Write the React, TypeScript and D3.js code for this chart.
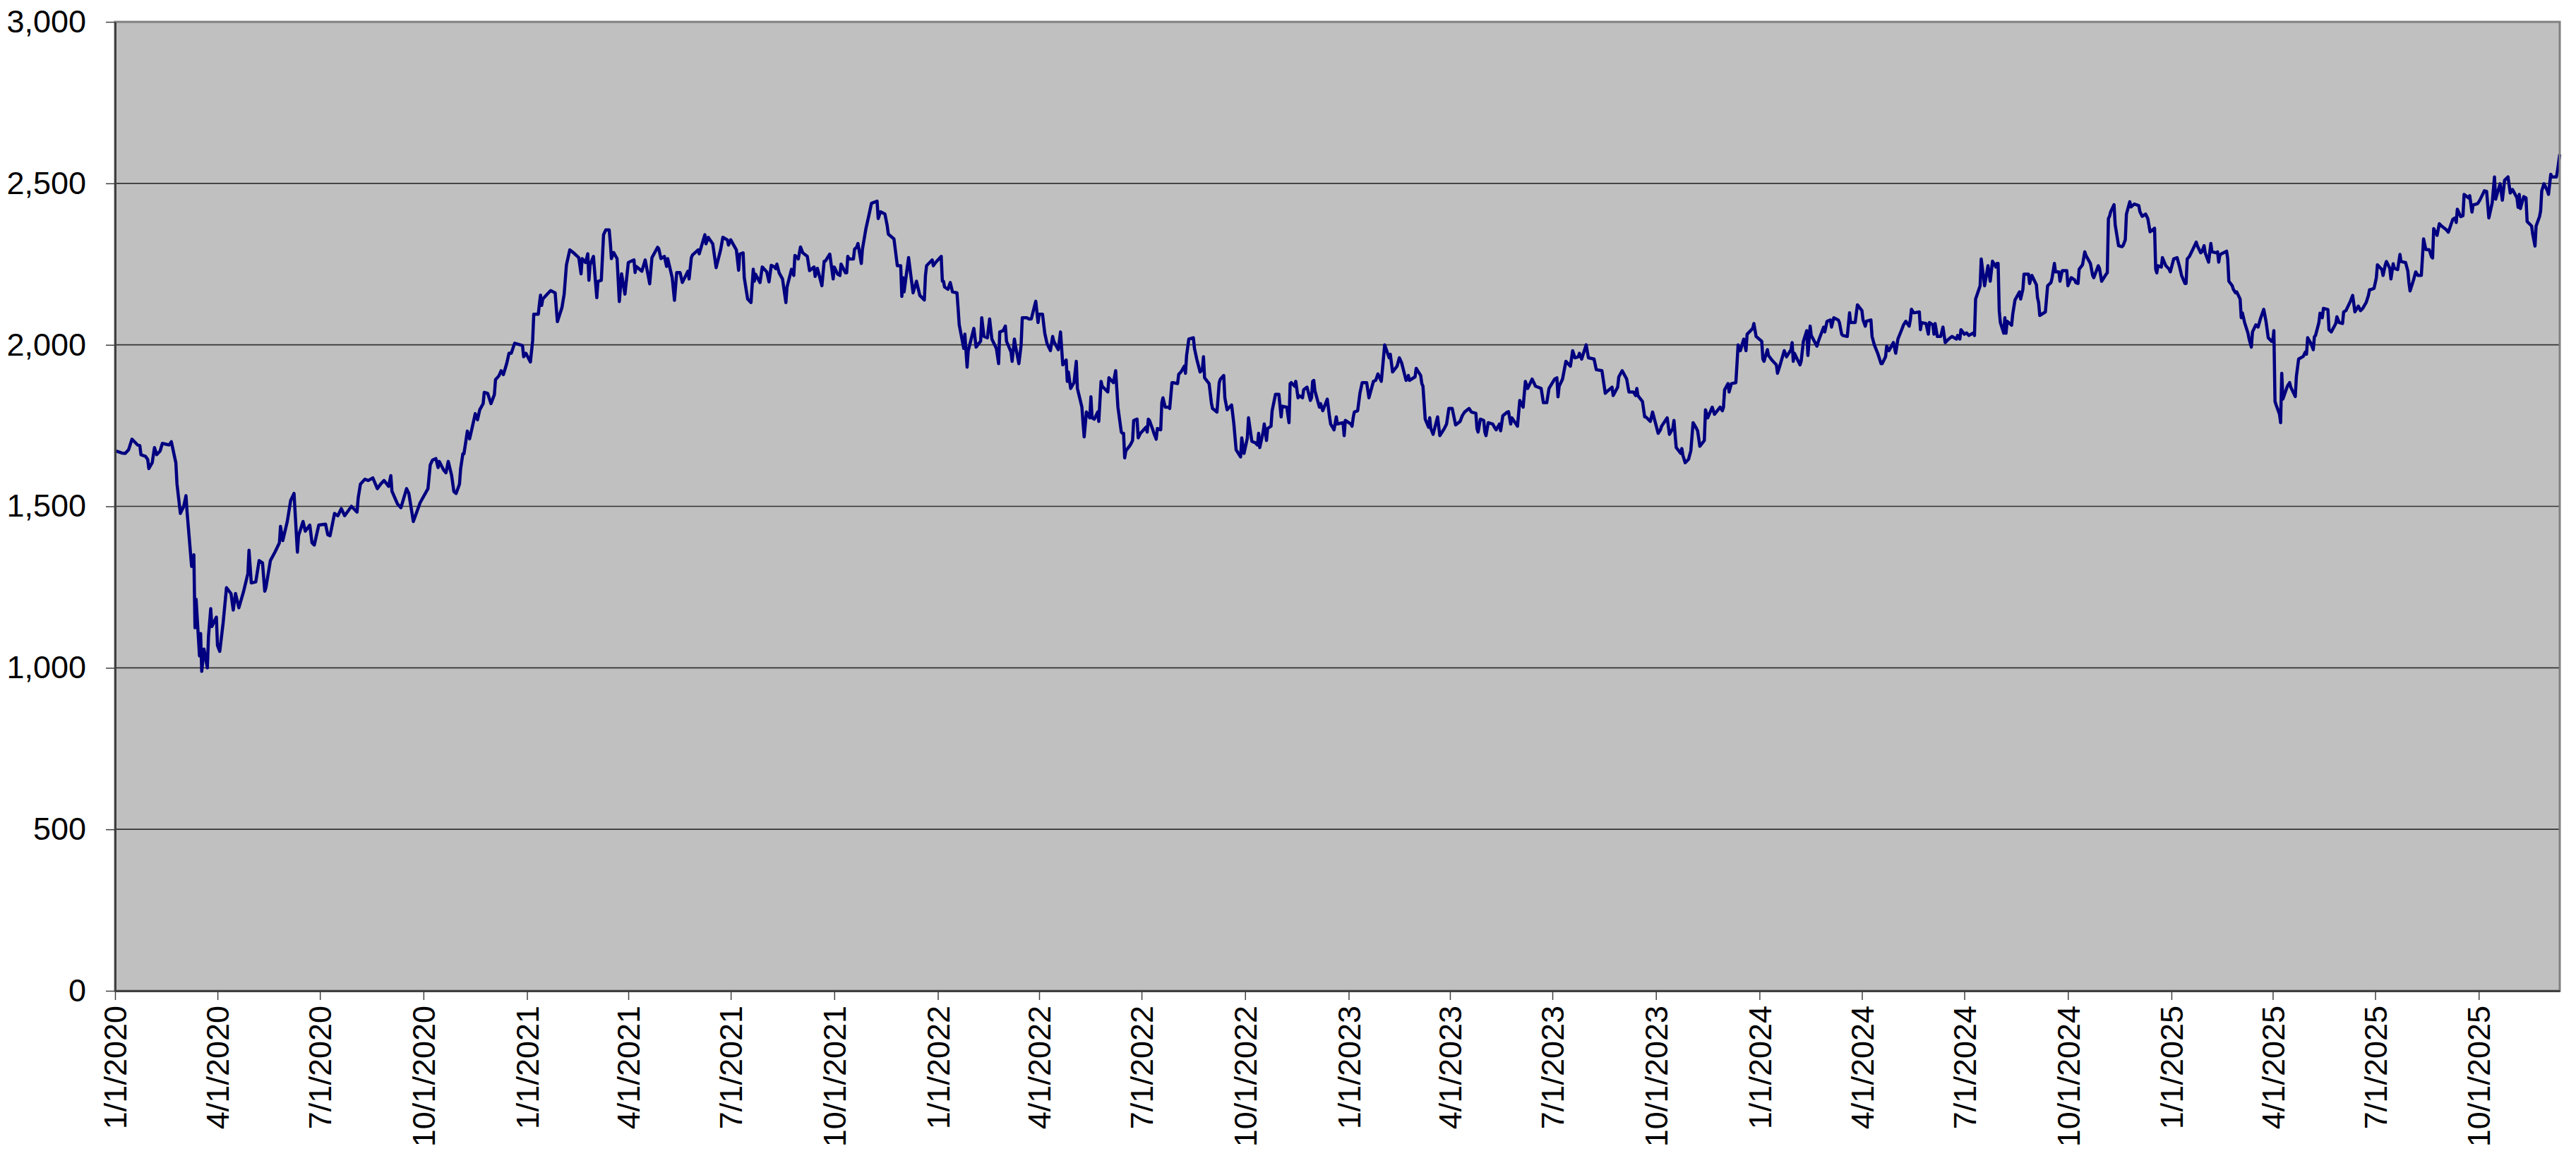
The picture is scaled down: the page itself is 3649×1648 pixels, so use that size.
import React, { useEffect, useRef } from "react";
import * as d3 from "d3";

// --- Chart size ---
const WIDTH = 3649;
const HEIGHT = 1648;
const margin = { top: 31, right: 23, bottom: 244, left: 163 };

// --- Axis ticks ---
const yTicks = [0, 500, 1000, 1500, 2000, 2500, 3000];
const xTickDates = [
  "2020-01-01", "2020-04-01", "2020-07-01", "2020-10-01",
  "2021-01-01", "2021-04-01", "2021-07-01", "2021-10-01",
  "2022-01-01", "2022-04-01", "2022-07-01", "2022-10-01",
  "2023-01-01", "2023-04-01", "2023-07-01", "2023-10-01",
  "2024-01-01", "2024-04-01", "2024-07-01", "2024-10-01",
  "2025-01-01", "2025-04-01", "2025-07-01", "2025-10-01",
];
const xDomain = ["2020-01-01", "2025-12-12"];

// --- Index closes, per year: [month-day, value] ---
const data2020: [string, number][] = [
  ["01-02", 1671], ["01-07", 1665], ["01-10", 1664], ["01-13", 1675], ["01-16", 1708], ["01-21", 1690],
  ["01-23", 1688], ["01-24", 1660], ["01-28", 1655], ["01-30", 1645], ["01-31", 1617], ["02-03", 1635],
  ["02-05", 1682], ["02-07", 1660], ["02-10", 1671], ["02-12", 1695], ["02-18", 1690], ["02-20", 1700],
  ["02-24", 1635], ["02-25", 1570], ["02-28", 1478], ["03-02", 1500], ["03-04", 1533], ["03-05", 1482],
  ["03-09", 1314], ["03-11", 1350], ["03-12", 1124], ["03-13", 1212], ["03-16", 1037], ["03-17", 1106],
  ["03-18", 989], ["03-20", 1058], ["03-23", 1000], ["03-24", 1098], ["03-26", 1183], ["03-27", 1128],
  ["03-31", 1157], ["04-01", 1069], ["04-03", 1051], ["04-06", 1139], ["04-09", 1248], ["04-13", 1230],
  ["04-15", 1179], ["04-17", 1230], ["04-20", 1186], ["04-24", 1234], ["04-28", 1292], ["04-29", 1364],
  ["05-01", 1263], ["05-05", 1266], ["05-08", 1332], ["05-11", 1325], ["05-13", 1237], ["05-14", 1248],
  ["05-18", 1332], ["05-22", 1358], ["05-26", 1387], ["05-27", 1438], ["05-29", 1394], ["06-02", 1453],
  ["06-05", 1518], ["06-08", 1540], ["06-11", 1358], ["06-12", 1409], ["06-16", 1453], ["06-18", 1423],
  ["06-22", 1442], ["06-24", 1387], ["06-26", 1380], ["06-30", 1442], ["07-06", 1445], ["07-08", 1412],
  ["07-10", 1409], ["07-14", 1478], ["07-17", 1471], ["07-20", 1493], ["07-23", 1471], ["07-29", 1500],
  ["08-03", 1482], ["08-04", 1526], ["08-06", 1569], ["08-10", 1584], ["08-13", 1580], ["08-17", 1588],
  ["08-21", 1555], ["08-24", 1569], ["08-27", 1580], ["08-31", 1562], ["09-02", 1595], ["09-03", 1547],
  ["09-08", 1507], ["09-11", 1496], ["09-16", 1555], ["09-18", 1540], ["09-22", 1453], ["09-28", 1511],
  ["10-05", 1555], ["10-07", 1628], ["10-09", 1643], ["10-12", 1648], ["10-14", 1620], ["10-15", 1639],
  ["10-19", 1612], ["10-21", 1604], ["10-23", 1639], ["10-26", 1596], ["10-28", 1546], ["10-30", 1540],
  ["11-02", 1569], ["11-03", 1616], ["11-05", 1663], ["11-06", 1663], ["11-09", 1733], ["11-11", 1709],
  ["11-13", 1740], ["11-16", 1787], ["11-18", 1768], ["11-20", 1799], ["11-23", 1818], ["11-24", 1853],
  ["11-27", 1850], ["11-30", 1818], ["12-03", 1846], ["12-04", 1892], ["12-07", 1904], ["12-09", 1920],
  ["12-11", 1908], ["12-14", 1943], ["12-16", 1974], ["12-18", 1974], ["12-21", 2005], ["12-28", 1998],
  ["12-29", 1963], ["12-31", 1974],
];

const data2021: [string, number][] = [
  ["01-04", 1947], ["01-06", 2013], ["01-07", 2095], ["01-11", 2095], ["01-12", 2126], ["01-13", 2154],
  ["01-14", 2122], ["01-15", 2142], ["01-19", 2157], ["01-22", 2168], ["01-26", 2161], ["01-27", 2115],
  ["01-28", 2072], ["02-01", 2115], ["02-03", 2157], ["02-05", 2247], ["02-08", 2294], ["02-11", 2286],
  ["02-16", 2270], ["02-18", 2220], ["02-19", 2267], ["02-22", 2255], ["02-24", 2282], ["02-25", 2200],
  ["02-26", 2247], ["03-01", 2274], ["03-04", 2146], ["03-05", 2196], ["03-08", 2200], ["03-10", 2341],
  ["03-12", 2356], ["03-15", 2356], ["03-16", 2317], ["03-17", 2267], ["03-19", 2286], ["03-22", 2267],
  ["03-24", 2134], ["03-26", 2220], ["03-29", 2157], ["04-01", 2255], ["04-06", 2263], ["04-07", 2224],
  ["04-08", 2243], ["04-13", 2228], ["04-16", 2263], ["04-20", 2189], ["04-22", 2270], ["04-27", 2302],
  ["04-28", 2298], ["04-30", 2267], ["05-03", 2274], ["05-05", 2243], ["05-06", 2267], ["05-10", 2208],
  ["05-12", 2138], ["05-14", 2224], ["05-17", 2224], ["05-19", 2193], ["05-24", 2228], ["05-25", 2204],
  ["05-27", 2270], ["05-28", 2278], ["06-02", 2294], ["06-03", 2282], ["06-08", 2341], ["06-09", 2313],
  ["06-11", 2333], ["06-15", 2313], ["06-18", 2239], ["06-22", 2294], ["06-24", 2333], ["06-28", 2325],
  ["06-29", 2309], ["07-01", 2325], ["07-06", 2294], ["07-08", 2231], ["07-09", 2281], ["07-12", 2285],
  ["07-13", 2208], ["07-15", 2164], ["07-16", 2142], ["07-19", 2131], ["07-21", 2234], ["07-22", 2197],
  ["07-23", 2219], ["07-27", 2193], ["07-29", 2241], ["08-02", 2226], ["08-04", 2195], ["08-06", 2246],
  ["08-09", 2241], ["08-10", 2236], ["08-11", 2250], ["08-13", 2223], ["08-16", 2204], ["08-19", 2131],
  ["08-20", 2179], ["08-24", 2234], ["08-26", 2215], ["08-27", 2277], ["08-30", 2266], ["09-01", 2303],
  ["09-03", 2285], ["09-07", 2274], ["09-09", 2230], ["09-13", 2241], ["09-14", 2212], ["09-16", 2237],
  ["09-20", 2183], ["09-22", 2259], ["09-23", 2259], ["09-27", 2281], ["09-30", 2204], ["10-01", 2241],
  ["10-04", 2219], ["10-06", 2215], ["10-07", 2250], ["10-11", 2223], ["10-12", 2223], ["10-13", 2274],
  ["10-14", 2266], ["10-18", 2266], ["10-19", 2296], ["10-21", 2303], ["10-22", 2314], ["10-25", 2252],
  ["10-26", 2296], ["10-29", 2358], ["11-01", 2405], ["11-03", 2438], ["11-08", 2445], ["11-09", 2391],
  ["11-11", 2412], ["11-15", 2405], ["11-17", 2369], ["11-18", 2343], ["11-22", 2331], ["11-23", 2328],
  ["11-26", 2245], ["11-29", 2245], ["11-30", 2150], ["12-01", 2208], ["12-02", 2164], ["12-06", 2270],
  ["12-08", 2215], ["12-10", 2161], ["12-13", 2197], ["12-16", 2153], ["12-20", 2139], ["12-21", 2215],
  ["12-22", 2245], ["12-27", 2263], ["12-28", 2245], ["12-30", 2255],
];

const data2022: [string, number][] = [
  ["01-04", 2274], ["01-05", 2197], ["01-06", 2197], ["01-07", 2179], ["01-10", 2172], ["01-12", 2193],
  ["01-14", 2164], ["01-18", 2161], ["01-19", 2113], ["01-20", 2062], ["01-24", 1989], ["01-25", 2033],
  ["01-27", 1931], ["01-28", 1982], ["02-02", 2051], ["02-04", 1993], ["02-07", 2007], ["02-08", 2011],
  ["02-09", 2084], ["02-11", 2026], ["02-14", 2022], ["02-16", 2080], ["02-18", 2018], ["02-22", 1989],
  ["02-24", 1942], ["02-25", 2040], ["02-28", 2044], ["03-02", 2058], ["03-03", 2011], ["03-07", 1978],
  ["03-08", 1949], ["03-10", 2018], ["03-11", 1996], ["03-14", 1942], ["03-16", 2000], ["03-17", 2084],
  ["03-21", 2084], ["03-23", 2080], ["03-25", 2080], ["03-29", 2135], ["03-31", 2069], ["04-01", 2095],
  ["04-04", 2095], ["04-06", 2036], ["04-08", 2004], ["04-11", 1982], ["04-13", 2026], ["04-14", 2011],
  ["04-18", 1985], ["04-20", 2040], ["04-22", 1938], ["04-25", 1953], ["04-26", 1887], ["04-27", 1916],
  ["04-29", 1865], ["05-02", 1883], ["05-04", 1949], ["05-05", 1865], ["05-09", 1807], ["05-10", 1759],
  ["05-11", 1715], ["05-13", 1792], ["05-16", 1774], ["05-17", 1839], ["05-18", 1774], ["05-20", 1770],
  ["05-23", 1792], ["05-24", 1763], ["05-26", 1887], ["05-27", 1872], ["06-01", 1854], ["06-02", 1898],
  ["06-06", 1883], ["06-08", 1920], ["06-10", 1807], ["06-13", 1730], ["06-14", 1726], ["06-15", 1726],
  ["06-16", 1650], ["06-17", 1672], ["06-21", 1690], ["06-23", 1704], ["06-24", 1766], ["06-27", 1770],
  ["06-28", 1712], ["06-30", 1726], ["07-05", 1745], ["07-06", 1730], ["07-07", 1770], ["07-08", 1766],
  ["07-11", 1737], ["07-12", 1726], ["07-14", 1708], ["07-15", 1741], ["07-18", 1737], ["07-19", 1821],
  ["07-20", 1836], ["07-22", 1807], ["07-25", 1807], ["07-26", 1803], ["07-28", 1883], ["07-29", 1883],
  ["08-02", 1880], ["08-03", 1909], ["08-05", 1916], ["08-08", 1934], ["08-09", 1912], ["08-10", 1967],
  ["08-12", 2018], ["08-16", 2022], ["08-17", 1989], ["08-19", 1956], ["08-22", 1916], ["08-24", 1923],
  ["08-25", 1963], ["08-26", 1898], ["08-30", 1880], ["09-01", 1821], ["09-02", 1803], ["09-06", 1792],
  ["09-08", 1883], ["09-09", 1894], ["09-12", 1905], ["09-13", 1836], ["09-15", 1799], ["09-19", 1814],
  ["09-21", 1755], ["09-23", 1675], ["09-27", 1653], ["09-28", 1712], ["09-30", 1664], ["10-03", 1712],
  ["10-04", 1774], ["10-07", 1701], ["10-10", 1697], ["10-12", 1690], ["10-13", 1726], ["10-14", 1682],
  ["10-17", 1730], ["10-18", 1755], ["10-20", 1704], ["10-21", 1741], ["10-24", 1748], ["10-25", 1796],
  ["10-28", 1847], ["10-31", 1847], ["11-02", 1777], ["11-03", 1810], ["11-07", 1807], ["11-09", 1759],
  ["11-10", 1880], ["11-11", 1883], ["11-14", 1872], ["11-15", 1887], ["11-17", 1836], ["11-18", 1843],
  ["11-21", 1836], ["11-22", 1861], ["11-25", 1869], ["11-28", 1828], ["11-29", 1836], ["11-30", 1887],
  ["12-01", 1890], ["12-02", 1858], ["12-06", 1807], ["12-07", 1818], ["12-09", 1796], ["12-13", 1832],
  ["12-15", 1777], ["12-16", 1755], ["12-19", 1737], ["12-21", 1777], ["12-22", 1755], ["12-27", 1759],
  ["12-28", 1719], ["12-29", 1766],
];

const data2023: [string, number][] = [
  ["01-03", 1755], ["01-04", 1748], ["01-05", 1774], ["01-06", 1792], ["01-09", 1796], ["01-11", 1850],
  ["01-13", 1883], ["01-17", 1883], ["01-19", 1836], ["01-23", 1887], ["01-25", 1890], ["01-27", 1910],
  ["01-30", 1887], ["02-02", 2000], ["02-06", 1960], ["02-07", 1971], ["02-09", 1916], ["02-13", 1934],
  ["02-15", 1960], ["02-17", 1945], ["02-21", 1890], ["02-23", 1905], ["02-24", 1890], ["03-01", 1901],
  ["03-02", 1927], ["03-06", 1905], ["03-07", 1880], ["03-08", 1872], ["03-10", 1770], ["03-13", 1745],
  ["03-14", 1774], ["03-15", 1741], ["03-17", 1723], ["03-21", 1777], ["03-23", 1719], ["03-27", 1741],
  ["03-29", 1755], ["03-31", 1803], ["04-03", 1803], ["04-06", 1752], ["04-10", 1763], ["04-12", 1781],
  ["04-14", 1792], ["04-18", 1803], ["04-20", 1792], ["04-24", 1788], ["04-25", 1741], ["04-26", 1730],
  ["04-28", 1770], ["05-01", 1766], ["05-02", 1730], ["05-03", 1719], ["05-05", 1759], ["05-09", 1755],
  ["05-10", 1748], ["05-12", 1737], ["05-15", 1755], ["05-16", 1734], ["05-18", 1781], ["05-22", 1792],
  ["05-23", 1793], ["05-25", 1755], ["05-26", 1774], ["05-31", 1748], ["06-02", 1828], ["06-05", 1807],
  ["06-07", 1887], ["06-09", 1865], ["06-13", 1894], ["06-16", 1872], ["06-21", 1865], ["06-23", 1821],
  ["06-26", 1821], ["06-28", 1865], ["07-03", 1894], ["07-05", 1898], ["07-06", 1839], ["07-07", 1872],
  ["07-10", 1894], ["07-13", 1949], ["07-17", 1934], ["07-19", 1982], ["07-21", 1960], ["07-24", 1963],
  ["07-25", 1974], ["07-27", 1956], ["07-31", 2000], ["08-02", 1960], ["08-07", 1956], ["08-09", 1923],
  ["08-14", 1920], ["08-17", 1850], ["08-18", 1854], ["08-23", 1869], ["08-24", 1843], ["08-28", 1869],
  ["08-29", 1901], ["09-01", 1920], ["09-05", 1894], ["09-07", 1854], ["09-11", 1854], ["09-13", 1843],
  ["09-14", 1865], ["09-15", 1843], ["09-19", 1825], ["09-21", 1777], ["09-22", 1777], ["09-26", 1763],
  ["09-28", 1792], ["10-03", 1726], ["10-05", 1737], ["10-06", 1748], ["10-11", 1774], ["10-13", 1723],
  ["10-16", 1741], ["10-17", 1766], ["10-19", 1682], ["10-23", 1664], ["10-24", 1679], ["10-25", 1657],
  ["10-27", 1635], ["10-30", 1646], ["11-01", 1672], ["11-03", 1759], ["11-06", 1741], ["11-07", 1734],
  ["11-09", 1686], ["11-13", 1704], ["11-14", 1799], ["11-16", 1774], ["11-20", 1807], ["11-22", 1785],
  ["11-27", 1807], ["11-29", 1796], ["11-30", 1807], ["12-01", 1861], ["12-04", 1880], ["12-05", 1854],
  ["12-07", 1880], ["12-11", 1883], ["12-13", 2000], ["12-14", 1982], ["12-15", 1982], ["12-18", 2018],
  ["12-20", 1982], ["12-21", 2033], ["12-26", 2051], ["12-27", 2066], ["12-29", 2026],
];

const data2024: [string, number][] = [
  ["01-03", 2011], ["01-04", 1956], ["01-05", 1949], ["01-08", 1985], ["01-09", 1967], ["01-12", 1953],
  ["01-16", 1938], ["01-17", 1912], ["01-19", 1934], ["01-23", 1982], ["01-25", 1963], ["01-29", 1985],
  ["01-30", 2007], ["01-31", 1949], ["02-01", 1974], ["02-05", 1945], ["02-06", 1938], ["02-07", 1949],
  ["02-09", 2011], ["02-12", 2044], ["02-13", 1967], ["02-15", 2058], ["02-16", 2029], ["02-21", 1996],
  ["02-23", 2018], ["02-27", 2055], ["02-28", 2040], ["03-01", 2073], ["03-04", 2077], ["03-05", 2055],
  ["03-07", 2084], ["03-11", 2077], ["03-12", 2069], ["03-14", 2033], ["03-15", 2029], ["03-19", 2026],
  ["03-21", 2099], ["03-22", 2069], ["03-26", 2069], ["03-28", 2124], ["04-01", 2106], ["04-02", 2077],
  ["04-04", 2058], ["04-05", 2073], ["04-09", 2077], ["04-10", 2026], ["04-12", 2000], ["04-15", 1974],
  ["04-18", 1942], ["04-19", 1942], ["04-22", 1963], ["04-23", 1996], ["04-25", 1982], ["04-29", 2007],
  ["05-01", 1974], ["05-03", 2018], ["05-06", 2044], ["05-08", 2062], ["05-10", 2073], ["05-13", 2058],
  ["05-14", 2077], ["05-15", 2110], ["05-17", 2099], ["05-22", 2102], ["05-23", 2047], ["05-24", 2069],
  ["05-28", 2066], ["05-30", 2033], ["05-31", 2069], ["06-03", 2062], ["06-04", 2033], ["06-05", 2066],
  ["06-07", 2026], ["06-10", 2026], ["06-12", 2055], ["06-14", 2007], ["06-17", 2018], ["06-20", 2026],
  ["06-24", 2018], ["06-25", 2029], ["06-27", 2018], ["06-28", 2047], ["07-01", 2033], ["07-03", 2037],
  ["07-05", 2029], ["07-09", 2037], ["07-10", 2029], ["07-11", 2142], ["07-15", 2183], ["07-16", 2266],
  ["07-19", 2183], ["07-22", 2245], ["07-24", 2197], ["07-26", 2259], ["07-29", 2241], ["07-30", 2252],
  ["07-31", 2252], ["08-01", 2106], ["08-02", 2069], ["08-05", 2036], ["08-06", 2084], ["08-07", 2036],
  ["08-08", 2073], ["08-12", 2061], ["08-13", 2095], ["08-15", 2139], ["08-19", 2164], ["08-20", 2142],
  ["08-22", 2172], ["08-23", 2219], ["08-27", 2219], ["08-28", 2190], ["08-30", 2215], ["09-03", 2186],
  ["09-04", 2146], ["09-05", 2131], ["09-06", 2091], ["09-11", 2102], ["09-13", 2183], ["09-16", 2193],
  ["09-17", 2208], ["09-19", 2252], ["09-20", 2226], ["09-23", 2226], ["09-24", 2197], ["09-26", 2230],
  ["09-27", 2230], ["09-30", 2230], ["10-01", 2183], ["10-04", 2208], ["10-07", 2201], ["10-08", 2193],
  ["10-10", 2190], ["10-11", 2234], ["10-14", 2248], ["10-16", 2288], ["10-17", 2277], ["10-21", 2252],
  ["10-23", 2215], ["10-24", 2208], ["10-28", 2245], ["10-29", 2237], ["10-31", 2197], ["11-04", 2219],
  ["11-05", 2223], ["11-06", 2391], ["11-07", 2398], ["11-08", 2412], ["11-11", 2434], ["11-12", 2372],
  ["11-15", 2307], ["11-18", 2304], ["11-19", 2307], ["11-21", 2325], ["11-22", 2405], ["11-25", 2443],
  ["11-26", 2427], ["11-29", 2436], ["12-03", 2431], ["12-04", 2412], ["12-06", 2398], ["12-09", 2405],
  ["12-11", 2391], ["12-13", 2350], ["12-16", 2358], ["12-17", 2361], ["12-18", 2234], ["12-19", 2223],
  ["12-20", 2245], ["12-23", 2241], ["12-24", 2270], ["12-27", 2245], ["12-30", 2234], ["12-31", 2226],
];

const data2025: [string, number][] = [
  ["01-03", 2266], ["01-06", 2270], ["01-08", 2245], ["01-10", 2215], ["01-13", 2190], ["01-14", 2190],
  ["01-15", 2266], ["01-17", 2274], ["01-21", 2303], ["01-23", 2318], ["01-24", 2307], ["01-27", 2285],
  ["01-28", 2288], ["01-30", 2307], ["01-31", 2285], ["02-03", 2256], ["02-05", 2314], ["02-06", 2288],
  ["02-10", 2285], ["02-11", 2288], ["02-12", 2256], ["02-13", 2277], ["02-14", 2281], ["02-19", 2290],
  ["02-20", 2266], ["02-21", 2197], ["02-24", 2183], ["02-25", 2172], ["02-27", 2161], ["02-28", 2164],
  ["03-03", 2142], ["03-04", 2084], ["03-05", 2099], ["03-07", 2069], ["03-10", 2036], ["03-11", 2018],
  ["03-13", 1993], ["03-14", 2040], ["03-17", 2062], ["03-19", 2055], ["03-21", 2080], ["03-24", 2110],
  ["03-26", 2073], ["03-28", 2022], ["03-31", 2011], ["04-01", 2011], ["04-02", 2044], ["04-03", 1825],
  ["04-04", 1814], ["04-07", 1785], ["04-08", 1759], ["04-09", 1912], ["04-10", 1832], ["04-14", 1872],
  ["04-16", 1883], ["04-17", 1869], ["04-21", 1840], ["04-22", 1902], ["04-24", 1956], ["04-28", 1964],
  ["04-30", 1978], ["05-01", 1971], ["05-02", 2022], ["05-05", 2004], ["05-07", 1985], ["05-08", 2025],
  ["05-09", 2029], ["05-12", 2069], ["05-13", 2098], ["05-15", 2084], ["05-16", 2113], ["05-20", 2109],
  ["05-21", 2047], ["05-23", 2040], ["05-27", 2066], ["05-28", 2087], ["05-30", 2069], ["06-02", 2066],
  ["06-03", 2102], ["06-05", 2106], ["06-09", 2135], ["06-11", 2153], ["06-13", 2102], ["06-16", 2120],
  ["06-18", 2106], ["06-20", 2113], ["06-23", 2131], ["06-25", 2153], ["06-26", 2171], ["06-27", 2171],
  ["06-30", 2175], ["07-02", 2207], ["07-03", 2248], ["07-07", 2233], ["07-08", 2215], ["07-10", 2248],
  ["07-11", 2258], ["07-14", 2237], ["07-15", 2204], ["07-17", 2251], ["07-18", 2237], ["07-21", 2233],
  ["07-23", 2280], ["07-24", 2258], ["07-28", 2255], ["07-30", 2229], ["07-31", 2193], ["08-01", 2167],
  ["08-04", 2200], ["08-06", 2226], ["08-08", 2215], ["08-11", 2215], ["08-13", 2328], ["08-15", 2295],
  ["08-18", 2295], ["08-20", 2273], ["08-21", 2269], ["08-22", 2360], ["08-25", 2339], ["08-27", 2375],
  ["08-29", 2368], ["09-02", 2357], ["09-04", 2349], ["09-08", 2389], ["09-10", 2393], ["09-11", 2379],
  ["09-12", 2420], ["09-15", 2397], ["09-17", 2400], ["09-18", 2466], ["09-22", 2455], ["09-23", 2462],
  ["09-24", 2437], ["09-25", 2411], ["09-26", 2433], ["09-30", 2437], ["10-02", 2448], ["10-06", 2477],
  ["10-08", 2475], ["10-10", 2393], ["10-13", 2440], ["10-15", 2520], ["10-16", 2451], ["10-20", 2499],
  ["10-22", 2448], ["10-24", 2510], ["10-27", 2520], ["10-29", 2470], ["10-31", 2481], ["11-04", 2455],
  ["11-05", 2426], ["11-06", 2466], ["11-07", 2422], ["11-10", 2459], ["11-12", 2455], ["11-13", 2382],
  ["11-17", 2368], ["11-18", 2342], ["11-20", 2306], ["11-21", 2368], ["11-24", 2397], ["11-25", 2415],
  ["11-26", 2477], ["11-28", 2499], ["12-01", 2477], ["12-02", 2466], ["12-04", 2528], ["12-05", 2520],
  ["12-09", 2520], ["12-10", 2539], ["12-12", 2590],
];

const yearly: [number, [string, number][]][] = [
  [2020, data2020], [2021, data2021], [2022, data2022],
  [2023, data2023], [2024, data2024], [2025, data2025],
];

const FONT = "'Liberation Sans', Arial, sans-serif";

const App: React.FC = () => {
  const svgRef = useRef<SVGSVGElement>(null);

  useEffect(() => {
    if (!svgRef.current) return;
    const parse = d3.timeParse("%Y-%m-%d");
    const points = yearly.flatMap(([year, rows]) =>
      rows.map(([md, value]) => ({ date: parse(`${year}-${md}`) as Date, value }))
    );

    const innerW = WIDTH - margin.left - margin.right;
    const innerH = HEIGHT - margin.top - margin.bottom;

    const svg = d3.select(svgRef.current);
    svg.selectAll("*").remove();

    const g = svg.append("g").attr("transform", `translate(${margin.left},${margin.top})`);

    const x = d3
      .scaleTime()
      .domain(xDomain.map((s) => parse(s) as Date))
      .range([0, innerW]);
    const y = d3.scaleLinear().domain([0, 3000]).range([innerH, 0]);

    // plot area
    g.append("rect")
      .attr("width", innerW)
      .attr("height", innerH)
      .attr("fill", "#c0c0c0");

    // gridlines
    g.selectAll(".grid")
      .data(yTicks.filter((t) => t > 0 && t < 3000))
      .enter()
      .append("line")
      .attr("x1", 0)
      .attr("x2", innerW)
      .attr("y1", (d) => y(d))
      .attr("y2", (d) => y(d))
      .attr("stroke", "#333")
      .attr("stroke-width", 1.6);

    // series
    const line = d3
      .line<{ date: Date; value: number }>()
      .x((d) => x(d.date))
      .y((d) => y(d.value));

    g.append("path")
      .datum(points)
      .attr("d", line)
      .attr("fill", "none")
      .attr("stroke", "#000080")
      .attr("stroke-width", 4.5)
      .attr("stroke-linejoin", "round");

    // plot border (top / right)
    g.append("rect")
      .attr("width", innerW)
      .attr("height", innerH)
      .attr("fill", "none")
      .attr("stroke", "#808080")
      .attr("stroke-width", 3);

    // y axis
    const yAxis = g
      .append("g")
      .call(
        d3
          .axisLeft(y)
          .tickValues(yTicks)
          .tickFormat(d3.format(",") as any)
          .tickSize(13)
          .tickSizeOuter(0)
          .tickPadding(28)
      );
    yAxis.select(".domain").attr("stroke", "#404040").attr("stroke-width", 3);
    yAxis.selectAll(".tick line").attr("stroke", "#404040").attr("stroke-width", 1.5);
    yAxis
      .selectAll(".tick text")
      .attr("font-family", FONT)
      .attr("font-size", 45)
      .attr("fill", "#000");

    // x axis
    const fmt = d3.timeFormat("%-m/%-d/%Y");
    const xAxis = g
      .append("g")
      .attr("transform", `translate(0,${innerH})`)
      .call(
        d3
          .axisBottom(x)
          .tickValues(xTickDates.map((s) => parse(s) as Date))
          .tickFormat(fmt as any)
          .tickSize(13)
          .tickSizeOuter(0)
      );
    xAxis.select(".domain").attr("stroke", "#404040").attr("stroke-width", 3);
    xAxis.selectAll(".tick line").attr("stroke", "#404040").attr("stroke-width", 1.5);
    xAxis
      .selectAll(".tick text")
      .attr("font-family", FONT)
      .attr("font-size", 45)
      .attr("fill", "#000")
      .attr("transform", "rotate(-90)")
      .attr("text-anchor", "end")
      .attr("x", -21)
      .attr("y", 0)
      .attr("dy", "0.35em");
  }, []);

  return (
    <div style={{ position: "absolute", left: 0, top: 0, width: WIDTH, height: HEIGHT, background: "#fff" }}>
      <svg ref={svgRef} width={WIDTH} height={HEIGHT} style={{ display: "block", background: "#fff" }} />
    </div>
  );
};

export default App;
